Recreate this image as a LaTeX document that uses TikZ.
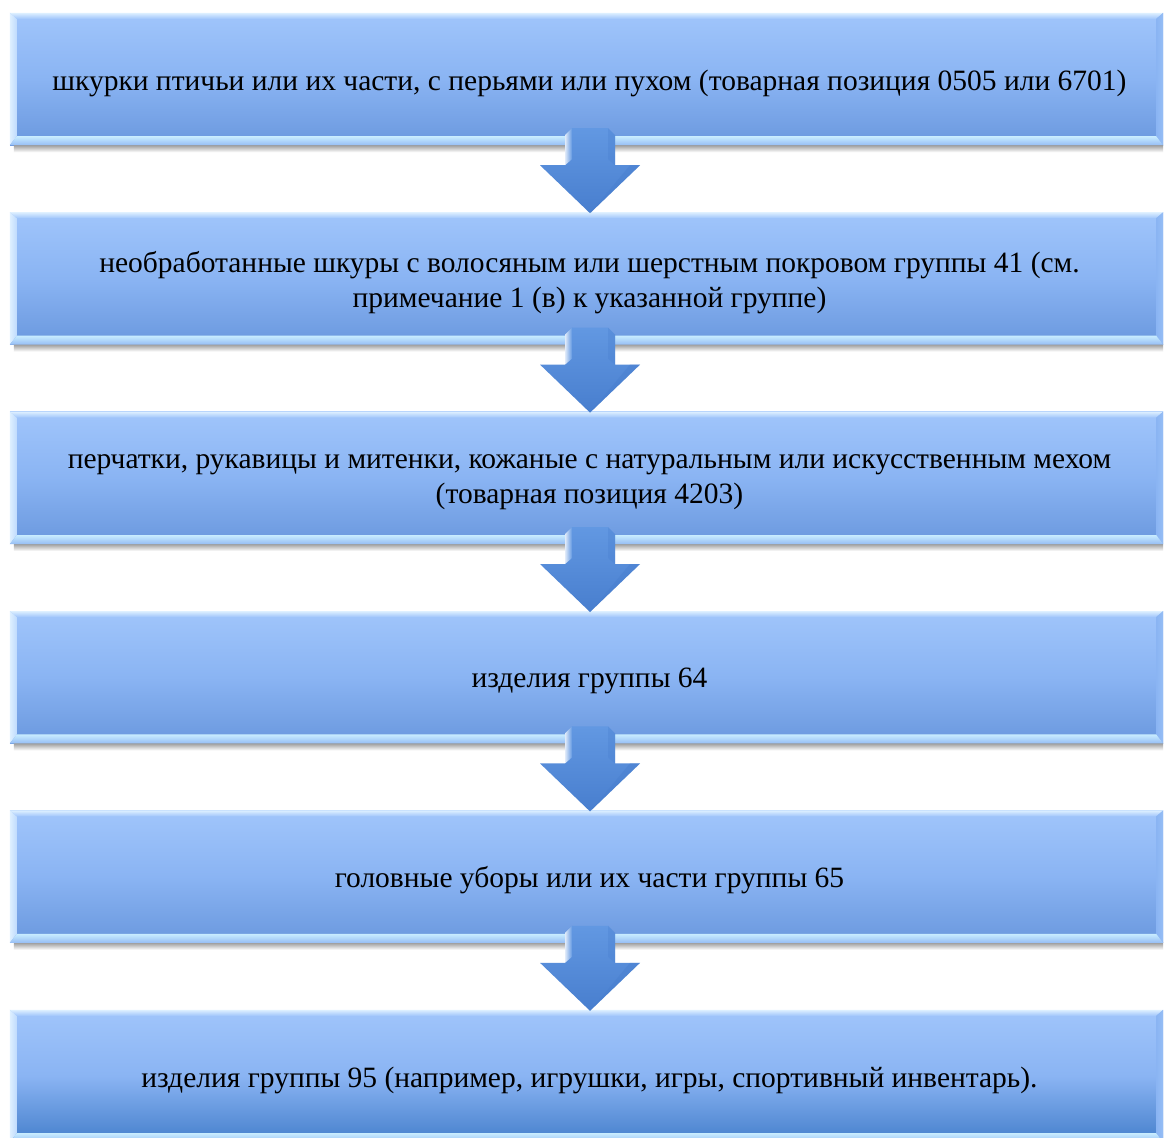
\documentclass[tikz,border=0pt]{standalone}
\usepackage{fontspec}
\setmainfont{Liberation Serif}
\usetikzlibrary{calc}
\definecolor{facetop}{RGB}{160,197,251}
\definecolor{facemid}{RGB}{138,180,243}
\definecolor{facebot}{RGB}{106,152,222}
\definecolor{facebotdark}{RGB}{70,128,204}
\definecolor{bevlight}{RGB}{222,240,255}
\definecolor{bevbot}{RGB}{200,236,255}
\definecolor{bevright}{RGB}{150,190,245}
\definecolor{arrtop}{RGB}{98,152,226}
\definecolor{arrbot}{RGB}{72,126,206}
\tikzset{
  stepbox/.style={minimum width=1153pt, minimum height=132pt, inner sep=0pt,
    top color=facetop, bottom color=facebot, middle color=facemid, shading=axis},
  lastbox/.style={stepbox, bottom color=facebotdark, middle color=facemid},
  boxtext/.style={align=center, inner sep=0pt, font=\fontsize{29.5}{35}\selectfont},
  flowarrow/.style={top color=arrtop, bottom color=arrbot},
}
\begin{document}
\begin{tikzpicture}[x=1pt,y=-1pt]
\useasboundingbox[fill=white] (0,0) rectangle (1165,1138);
\node[stepbox] (b1) at (586.5,79) {};
\node[stepbox] (b2) at (586.5,278.4) {};
\node[stepbox] (b3) at (586.5,477.8) {};
\node[stepbox] (b4) at (586.5,677.2) {};
\node[stepbox] (b5) at (586.5,876.6) {};
\node[lastbox] (b6) at (586.5,1076) {};
% bevels and shadows
\foreach \bx in {b1,b2,b3,b4,b5,b6}{
  \path let \p1=(\bx.north west), \p2=(\bx.south east) in
    [top color=black!38, bottom color=white] (\x1+4pt,\y2) rectangle (\x2,\y2-7pt);
  \path let \p1=(\bx.north west), \p2=(\bx.south east) in
    [left color=bevlight, right color=bevlight!50!facetop] (\x1,\y1) -- (\x1+7pt,\y1-6pt) -- (\x1+7pt,\y2+9pt) -- (\x1,\y2) -- cycle;
  \path let \p1=(\bx.north west), \p2=(\bx.south east) in
    [top color=bevlight, bottom color=facetop] (\x1,\y1) -- (\x2,\y1) -- (\x2-7pt,\y1-6pt) -- (\x1+7pt,\y1-6pt) -- cycle;
  \path let \p1=(\bx.north west), \p2=(\bx.south east) in
    [left color=facemid, right color=bevright] (\x2,\y1) -- (\x2,\y2) -- (\x2-7pt,\y2+9pt) -- (\x2-7pt,\y1-6pt) -- cycle;
  \path let \p1=(\bx.north west), \p2=(\bx.south east) in
    [top color=bevbot, bottom color=bevright] (\x1,\y2) -- (\x1+7pt,\y2+9pt) -- (\x2-7pt,\y2+9pt) -- (\x2,\y2) -- cycle;
}
% texts
\node[boxtext] (t1) at ([xshift=3pt,yshift=-4pt]b1.center) {шкурки птичьи или их части, с перьями или пухом (товарная позиция 0505 или 6701)};
\node[boxtext] (t2) at ([xshift=3pt,yshift=-4pt]b2.center) {необработанные шкуры с волосяным или шерстным покровом группы 41 (см.\\ примечание 1 (в) к указанной группе)};
\node[boxtext] (t3) at ([xshift=3pt,yshift=-4pt]b3.center) {перчатки, рукавицы и митенки, кожаные с натуральным или искусственным мехом\\ (товарная позиция 4203)};
\node[boxtext] (t4) at ([xshift=3pt,yshift=-4pt]b4.center) {изделия группы 64};
\node[boxtext] (t5) at ([xshift=3pt,yshift=-4pt]b5.center) {головные уборы или их части группы 65};
\node[boxtext] (t6) at ([xshift=3pt,yshift=-4pt]b6.center) {изделия группы 95 (например, игрушки, игры, спортивный инвентарь).};
% arrows
\foreach \src/\dst in {b1/b2,b2/b3,b3/b4,b4/b5,b5/b6}{
  \path let \p1=($(\src.south)+(3.5,0)$), \p2=(\dst.north) in
    [flowarrow] (\x1-25pt,\y1+10pt) -- (\x1-18pt,\y1+17pt) -- (\x1+18pt,\y1+17pt) -- (\x1+25pt,\y1+10pt)
      -- (\x1+25pt,\y1-20pt) -- (\x1+50pt,\y1-20pt) -- (\x1,\y2-1pt) -- (\x1-50pt,\y1-20pt)
      -- (\x1-25pt,\y1-20pt) -- cycle;
  \path let \p1=($(\src.south)+(3.5,0)$), \p2=(\dst.north) in
    [left color=white!80!arrtop, right color=arrtop] (\x1-25pt,\y1+10pt) -- (\x1-18pt,\y1+17pt) -- (\x1-18pt,\y1-14pt) -- (\x1-25pt,\y1-20pt) -- cycle;
  \path let \p1=($(\src.south)+(3.5,0)$), \p2=(\dst.north) in
    [fill=arrbot, fill opacity=0.45] (\x1,\y2-1pt) -- (\x1+50pt,\y1-20pt) -- (\x1+40pt,\y1-20pt) -- cycle;
  \path let \p1=($(\src.south)+(3.5,0)$), \p2=(\dst.north) in
    [fill=arrbot, fill opacity=0.3] (\x1+18pt,\y1+17pt) -- (\x1+25pt,\y1+10pt) -- (\x1+25pt,\y1-20pt) -- (\x1+18pt,\y1-14pt) -- cycle;
}
\end{tikzpicture}
\end{document}
